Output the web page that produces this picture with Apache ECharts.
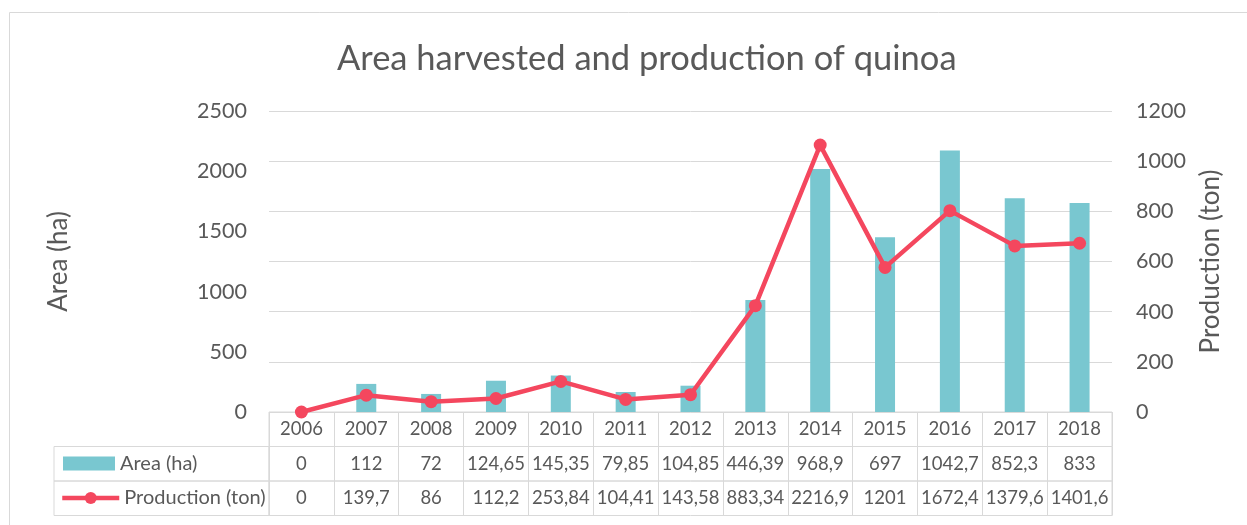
<!DOCTYPE html>
<html>
<head>
<meta charset="utf-8">
<title>Area harvested and production of quinoa</title>
<script src="https://cdn.jsdelivr.net/npm/echarts@6/dist/echarts.min.js"></script>
<style>
  html, body { margin: 0; padding: 0; background: #fff; }
  #chart { width: 1247px; height: 525px; }
</style>
</head>
<body>
<div id="chart"></div>
<script>
  // data
  var years = ['2006', '2007', '2008', '2009', '2010', '2011', '2012', '2013', '2014', '2015', '2016', '2017', '2018'];
  var areaData = [0, 112, 72, 124.65, 145.35, 79.85, 104.85, 446.39, 968.9, 697, 1042.7, 852.3, 833];
  var productionData = [0, 139.7, 86, 112.2, 253.84, 104.41, 143.58, 883.34, 2216.9, 1201, 1672.4, 1379.6, 1401.6];

  var textColor = '#595959';
  var lineColor = '#d9d9d9';
  var font = 'Lato';

  function fmt(v) {
    return String(v).replace('.', ',');
  }

  // one row of the data table under the plot
  function tableAxis(gridIndex, values) {
    return {
      type: 'category',
      gridIndex: gridIndex,
      data: years,
      axisLine: { show: false },
      axisTick: { show: false },
      axisLabel: {
        inside: true,
        margin: 17,
        verticalAlign: 'middle',
        interval: 0,
        color: textColor,
        fontSize: 18.5,
        fontFamily: font,
        formatter: function (val, idx) {
          return values ? fmt(values[idx]) : val;
        }
      },
      splitLine: { show: true, interval: 0, lineStyle: { color: lineColor, width: 1 } }
    };
  }

  function hiddenY(gridIndex) {
    return { type: 'value', gridIndex: gridIndex, show: false };
  }

  var myChart = echarts.init(document.getElementById('chart'));
  myChart.setOption({
    animation: false,
    textStyle: { fontFamily: font },
    title: {
      text: 'Area harvested and production of quinoa',
      left: 332,
      top: 36,
      textStyle: { color: textColor, fontSize: 34.5, fontWeight: 'normal', fontFamily: font }
    },
    graphic: [{
      type: 'rect',
      shape: { x: 9.5, y: 12.5, width: 1400, height: 700 },
      style: { fill: 'none', stroke: lineColor, lineWidth: 1 },
      silent: true
    }],
    legend: [{
      data: ['Area (ha)'],
      left: 58,
      top: 448.5,
      icon: 'rect',
      itemWidth: 52,
      itemHeight: 14,
      itemGap: 5,
      textStyle: { color: textColor, fontSize: 20, fontFamily: font }
    }, {
      data: ['Production (ton)'],
      left: 55,
      top: 483,
      itemWidth: 57,
      itemHeight: 15,
      itemGap: 4,
      lineStyle: { width: 4.5 },
      textStyle: { color: textColor, fontSize: 20, fontFamily: font }
    }],
    grid: [
      { left: 269, right: 135, top: 111, height: 301 },
      { left: 269, right: 135, top: 412, height: 34.5, show: true, borderColor: lineColor, borderWidth: 1 },
      { left: 269, right: 135, top: 446.5, height: 34.5, show: true, borderColor: lineColor, borderWidth: 1 },
      { left: 269, right: 135, top: 481, height: 34.5, show: true, borderColor: lineColor, borderWidth: 1 },
      { left: 54, width: 215, top: 446.5, height: 34.5, show: true, borderColor: lineColor, borderWidth: 1 },
      { left: 54, width: 215, top: 481, height: 34.5, show: true, borderColor: lineColor, borderWidth: 1 }
    ],
    xAxis: [
      {
        type: 'category',
        gridIndex: 0,
        data: years,
        axisLine: { show: false },
        axisTick: { show: false },
        axisLabel: { show: false }
      },
      tableAxis(1, null),
      tableAxis(2, areaData),
      tableAxis(3, productionData),
      { type: 'value', gridIndex: 4, show: false },
      { type: 'value', gridIndex: 5, show: false }
    ],
    yAxis: [
      {
        type: 'value',
        gridIndex: 0,
        min: 0,
        max: 2500,
        interval: 500,
        name: 'Area (ha)',
        nameLocation: 'middle',
        nameRotate: 90,
        nameGap: 197,
        nameTextStyle: { color: textColor, fontSize: 26, fontFamily: font },
        axisLine: { show: false },
        axisTick: { show: false },
        splitLine: { show: false },
        axisLabel: { color: textColor, fontSize: 21.5, margin: 22, fontFamily: font, formatter: function (v) { return String(v); } }
      },
      {
        type: 'value',
        gridIndex: 0,
        position: 'right',
        min: 0,
        max: 1200,
        interval: 200,
        name: 'Production (ton)',
        nameLocation: 'middle',
        nameRotate: 90,
        nameGap: 86,
        nameTextStyle: { color: textColor, fontSize: 26, fontFamily: font },
        axisLine: { show: false },
        axisTick: { show: false },
        splitLine: { show: true, lineStyle: { color: lineColor, width: 1 } },
        axisLabel: { color: textColor, fontSize: 21.5, margin: 24, fontFamily: font, formatter: function (v) { return String(v); } }
      },
      hiddenY(1),
      hiddenY(2),
      hiddenY(3),
      hiddenY(4),
      hiddenY(5)
    ],
    series: [
      {
        name: 'Area (ha)',
        type: 'bar',
        xAxisIndex: 0,
        yAxisIndex: 1,
        data: areaData,
        barWidth: 20,
        itemStyle: { color: '#79C7D0' }
      },
      {
        name: 'Production (ton)',
        type: 'line',
        xAxisIndex: 0,
        yAxisIndex: 0,
        data: productionData,
        symbol: 'circle',
        symbolSize: 13,
        z: 3,
        itemStyle: { color: '#F4475E' },
        lineStyle: { color: '#F4475E', width: 4.5 }
      }
    ]
  });
</script>
</body>
</html>
